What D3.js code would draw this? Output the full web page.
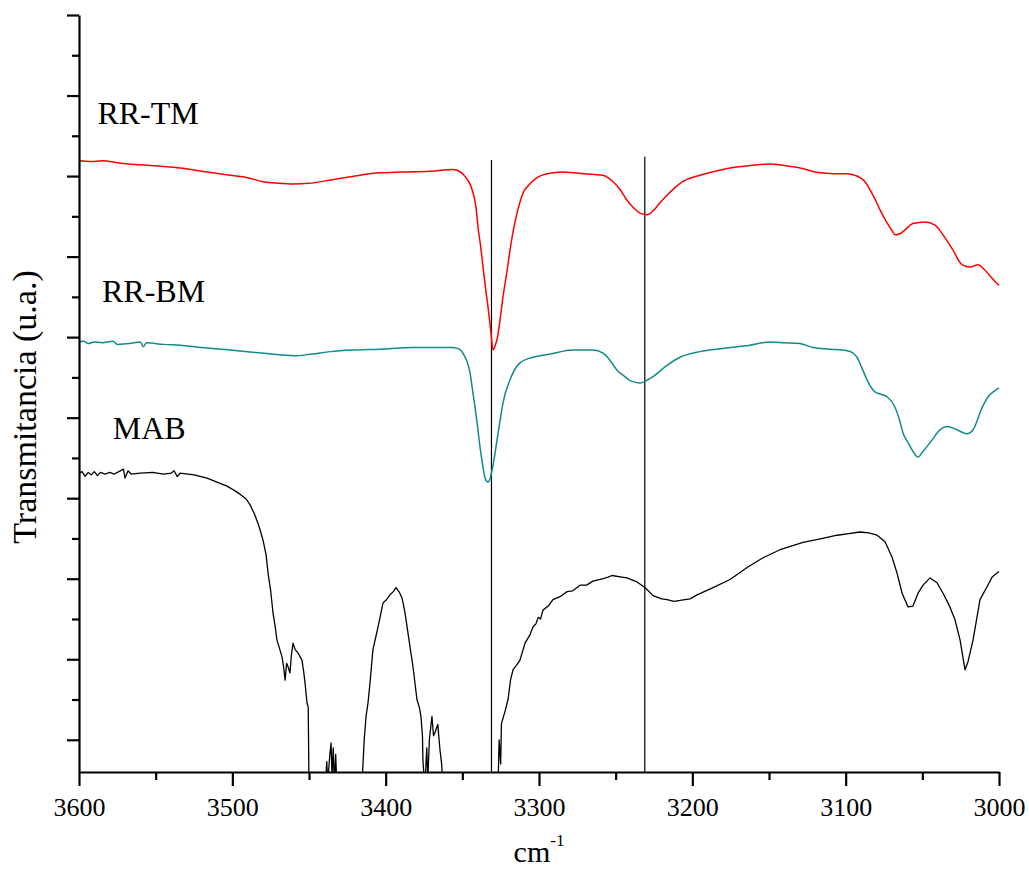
<!DOCTYPE html>
<html>
<head>
<meta charset="utf-8">
<script src="https://cdn.jsdelivr.net/npm/d3@7"></script>
<style>
  html, body { margin: 0; padding: 0; background: #fff; }
  svg { display: block; }
  text { font-family: "Liberation Serif", "Times New Roman", Tinos, "Nimbus Roman", "DejaVu Serif", serif; fill: #000; }
</style>
</head>
<body>
<svg id="chart" width="1029" height="871"></svg>
<script>
// ---- Data (wavenumber cm^-1, transmittance in arbitrary units) ----
const seriesNames = ["RR-TM", "RR-BM", "MAB"];
const seriesColors = ["#ff0000", "#128a8a", "#000000"];

const rrTM = [
  [3600,8.19],[3592,8.18],[3585,8.19],[3573,8.16],[3560,8.14],[3545,8.12],[3534,8.10],[3520,8.06],[3501.5,8.01],
  [3490,7.98],[3480,7.93],[3470,7.91],[3460,7.90],[3450,7.91],[3436,7.95],[3420,8.00],[3404,8.04],
  [3390,8.05],[3371,8.06],[3356,8.08],[3352,8.06],[3348,7.99],[3345,7.90],[3343,7.79],[3341,7.60],
  [3339.8,7.37],[3338,7.12],[3336.5,6.87],[3334.8,6.60],[3333.2,6.37],[3331.3,6.05],[3330,5.84],
  [3328.5,5.90],[3327.4,5.97],[3325.5,6.20],[3323.5,6.50],[3321,6.80],[3318.9,7.08],[3316.5,7.35],
  [3314.3,7.54],[3310.4,7.79],[3306,7.90],[3301.3,7.98],[3294.8,8.03],[3284.3,8.05],[3277,8.04],
  [3271.3,8.03],[3264,8.02],[3258.2,8.01],[3255,7.98],[3251.7,7.93],[3247,7.83],[3242.6,7.70],
  [3238,7.60],[3234.1,7.54],[3229.5,7.52],[3225,7.58],[3221.1,7.67],[3215,7.79],[3208,7.91],
  [3195,8.01],[3185,8.06],[3175.4,8.10],[3162,8.13],[3149.3,8.15],[3140,8.13],[3129.8,8.10],
  [3116.7,8.04],[3108,8.03],[3099.1,8.03],[3094,8.01],[3090.6,7.98],[3087,7.92],[3084.1,7.83],
  [3080.5,7.70],[3077.6,7.58],[3073,7.42],[3070,7.33],[3067.8,7.27],[3065,7.28],[3062.6,7.31],
  [3056.1,7.41],[3048.2,7.43],[3041.7,7.39],[3036.5,7.27],[3030,7.08],[3024.1,6.90],[3018.9,6.87],
  [3013.7,6.90],[3009.1,6.83],[3004.5,6.73],[3000,6.64]
];

const rrBM = [
  [3600,5.94],[3597,5.95],[3594,5.92],[3590,5.94],[3585,5.93],[3578,5.95],[3575,5.91],[3567,5.92],
  [3560,5.94],[3558,5.88],[3556,5.93],[3545,5.91],[3534,5.90],[3520,5.87],[3501.5,5.84],
  [3485,5.81],[3469,5.78],[3458,5.77],[3448,5.79],[3436,5.82],[3420,5.84],[3404,5.85],
  [3382,5.87],[3365,5.87],[3356,5.87],[3352,5.85],[3349.6,5.80],[3347,5.70],[3345,5.56],
  [3343.4,5.35],[3341.7,5.13],[3340,4.88],[3338.5,4.64],[3336.8,4.42],[3335.2,4.25],[3333.2,4.20],
  [3331.8,4.25],[3330.6,4.35],[3329,4.52],[3327.4,4.72],[3325.5,4.95],[3323.5,5.18],[3318.9,5.47],
  [3312.4,5.68],[3303.9,5.75],[3292.8,5.79],[3277.8,5.84],[3264.8,5.84],[3258.2,5.80],[3254,5.72],
  [3249.1,5.59],[3244,5.51],[3240.6,5.46],[3234.1,5.43],[3230,5.46],[3225.6,5.51],[3216.5,5.65],
  [3208,5.75],[3195,5.82],[3180,5.86],[3162.4,5.90],[3149.3,5.94],[3140,5.93],[3129.8,5.92],
  [3121.3,5.87],[3110,5.85],[3099.1,5.83],[3095,5.80],[3092.6,5.75],[3089,5.60],[3086.1,5.47],
  [3080.9,5.32],[3077,5.29],[3073,5.26],[3067.8,5.13],[3065,4.98],[3062.6,4.81],[3059,4.68],
  [3056.7,4.60],[3052.8,4.51],[3050,4.57],[3047,4.64],[3043,4.74],[3040.4,4.81],[3033.9,4.89],
  [3027.4,4.85],[3020.9,4.80],[3016.9,4.85],[3014.5,4.95],[3012.4,5.06],[3007.1,5.26],[3003,5.33],[3000,5.37]
];

const mab = [
  [3600,4.31],[3598,4.33],[3596,4.27],[3594,4.32],[3592,4.29],[3590,4.33],[3588,4.28],[3586,4.32],
  [3583,4.30],[3580,4.32],[3577,4.30],[3574,4.33],[3571,4.36],[3570,4.25],[3568,4.34],[3566,4.30],
  [3560,4.31],[3552,4.32],[3545,4.30],[3540,4.31],[3538,4.34],[3536,4.27],[3534,4.31],[3525,4.29],
  [3516.5,4.25],[3510,4.20],[3503.5,4.15],[3499,4.10],[3495,4.05],[3491,3.99],[3488.5,3.92],
  [3485.5,3.80],[3483.3,3.69],[3481.5,3.58],[3480,3.48],[3478,3.30],[3476.7,3.07],[3475,2.85],
  [3473.5,2.58],[3472,2.40],[3470.9,2.24],[3469,2.12],[3467.6,2.03],[3466.5,1.90],[3465.6,1.74],
  [3464.6,1.95],[3463.7,1.91],[3462.4,1.83],[3461.5,2.05],[3460.4,2.20],[3459,2.12],[3457.2,2.08],
  [3455.5,2.02],[3454.6,1.99],[3453.5,1.85],[3452.6,1.71],[3451.3,1.46],[3450.5,1.40],[3450,0.40],
  [3440,0.40],[3439,0.55],[3438.4,0.73],[3437.8,0.45],[3436.5,0.80],[3435.6,0.96],[3435,0.55],
  [3434.2,0.90],[3433.5,0.45],[3432.6,0.82],[3431.8,0.40],[3416,0.40],[3415,0.62],[3414,1.00],
  [3412.8,1.29],[3411.5,1.46],[3410,1.75],[3408.3,2.12],[3405,2.40],[3401.7,2.70],[3399.5,2.74],
  [3397.2,2.80],[3395,2.84],[3393.3,2.89],[3391,2.83],[3389.3,2.76],[3387.4,2.58],[3384.8,2.24],
  [3382.2,1.91],[3379.6,1.50],[3378,1.40],[3377,1.29],[3376,1.05],[3375.7,0.75],[3374.5,0.40],
  [3373.2,0.90],[3372.5,0.50],[3371.5,1.00],[3369.8,1.29],[3368.8,1.05],[3367.8,1.09],[3366,1.19],
  [3364.6,0.88],[3363.5,0.70],[3362.6,0.40],[3327.5,0.40],[3326.5,0.60],[3326,1.00],[3325,0.70],
  [3324.5,1.20],[3322.2,1.35],[3320.2,1.50],[3318.5,1.75],[3316.9,1.87],[3314.5,1.93],[3312.4,1.99],
  [3309.1,2.20],[3306,2.30],[3303.9,2.40],[3302,2.44],[3300.5,2.52],[3299,2.50],[3297.4,2.61],
  [3294,2.66],[3290.9,2.74],[3286,2.78],[3281.7,2.84],[3278,2.85],[3273.2,2.92],[3269,2.92],
  [3264.8,2.97],[3258,3.00],[3255,3.02],[3252.4,3.04],[3246,3.02],[3242.6,3.01],[3236.1,2.96],
  [3230.9,2.89],[3225.6,2.79],[3220,2.75],[3216.5,2.74],[3212,2.72],[3208,2.73],[3201.5,2.75],
  [3196.9,2.80],[3186.5,2.89],[3175.4,2.99],[3164.3,3.14],[3153.9,3.26],[3142.8,3.36],[3127.8,3.45],
  [3115,3.50],[3105.6,3.54],[3098,3.56],[3090.6,3.58],[3085,3.57],[3079.5,3.54],[3074.3,3.46],
  [3069.8,3.27],[3066.5,3.07],[3063.2,2.82],[3059.3,2.65],[3056.1,2.66],[3052.8,2.82],[3049.5,2.92],
  [3045,3.01],[3040.4,2.95],[3036.5,2.82],[3032,2.65],[3028.7,2.49],[3025.4,2.24],[3022.2,1.87],
  [3020.2,1.97],[3016.9,2.24],[3012.4,2.74],[3007.8,2.90],[3004.5,3.02],[3000,3.09]
];

const refLines = [3331, 3231];
const refLineTops = [8.20, 8.24];

const xTickMajor = [3600, 3500, 3400, 3300, 3200, 3100, 3000];
const xTickMinor = [3550, 3450, 3350, 3250, 3150, 3050];
const yTickMajor = [1, 2, 3, 4, 5, 6, 7, 8, 9, 10];
const yTickMinor = [1.5, 2.5, 3.5, 4.5, 5.5, 6.5, 7.5, 8.5, 9.5];

const yLabel = "Transmitancia (u.a.)";
const xLabelMain = "cm";
const xLabelSup = "-1";

// ---- Drawing ----
const svg = d3.select("#chart");
const x = d3.scaleLinear().domain([3600, 3000]).range([79, 999]);
const y = d3.scaleLinear().domain([0.6, 10]).range([772, 15]);

svg.append("defs").append("clipPath").attr("id", "plotClip")
  .append("rect").attr("x", 79).attr("y", 0).attr("width", 921).attr("height", 772);

const plot = svg.append("g").attr("clip-path", "url(#plotClip)");

// reference lines
plot.selectAll("line.ref").data(refLines).enter().append("line")
  .attr("class", "ref")
  .attr("x1", d => x(d)).attr("x2", d => x(d))
  .attr("y1", (d, i) => y(refLineTops[i])).attr("y2", y(0.6))
  .attr("stroke", "#000").attr("stroke-width", 1.2);

const line = d3.line().x(d => x(d[0])).y(d => y(d[1]));
const smooth = d3.line().x(d => x(d[0])).y(d => y(d[1])).curve(d3.curveMonotoneX);

[rrTM, rrBM].forEach((data, i) => {
  plot.append("path").datum(data)
    .attr("d", smooth).attr("fill", "none")
    .attr("stroke", seriesColors[i]).attr("stroke-width", 1.5)
    .attr("stroke-linejoin", "round");
});
plot.append("path").datum(mab)
  .attr("d", line).attr("fill", "none")
  .attr("stroke", seriesColors[2]).attr("stroke-width", 1.3)
  .attr("stroke-linejoin", "round");

// axes
const axisG = svg.append("g");
const xAxisMajor = d3.axisBottom(x).tickValues(xTickMajor).tickSize(14).tickSizeOuter(0)
  .tickPadding(12).tickFormat(d3.format("d"));
const gx = axisG.append("g").attr("transform", "translate(0,772)").call(xAxisMajor);
gx.attr("font-family", null);
gx.select(".domain").attr("stroke-width", 2.2);
gx.selectAll(".tick line").attr("stroke-width", 2.2);
gx.selectAll(".tick text").attr("font-size", 26).attr("fill", "#000");
const xAxisMinor = d3.axisBottom(x).tickValues(xTickMinor).tickSize(8).tickSizeOuter(0).tickFormat("");
const gxm = axisG.append("g").attr("transform", "translate(0,772)").call(xAxisMinor);
gxm.select(".domain").remove();
gxm.selectAll(".tick line").attr("stroke-width", 2.2);

const yAxisMajor = d3.axisLeft(y).tickValues(yTickMajor).tickSize(12).tickSizeOuter(0).tickFormat("");
const gy = axisG.append("g").attr("transform", "translate(79,0)").call(yAxisMajor);
gy.select(".domain").attr("stroke-width", 2.2);
gy.selectAll(".tick line").attr("stroke-width", 2.2);
const yAxisMinor = d3.axisLeft(y).tickValues(yTickMinor).tickSize(7).tickSizeOuter(0).tickFormat("");
const gym = axisG.append("g").attr("transform", "translate(79,0)").call(yAxisMinor);
gym.select(".domain").remove();
gym.selectAll(".tick line").attr("stroke-width", 2.2);

// series labels
const labelPos = [[3588, 8.65], [3585, 6.44], [3578, 4.74]];
svg.selectAll("text.series").data(seriesNames).enter().append("text")
  .attr("class", "series")
  .attr("x", (d, i) => x(labelPos[i][0]))
  .attr("y", (d, i) => y(labelPos[i][1]))
  .attr("font-size", 32)
  .text(d => d);

// axis titles
svg.append("text")
  .attr("transform", "translate(36,407) rotate(-90)")
  .attr("text-anchor", "middle")
  .attr("font-size", 34)
  .text(yLabel);

const xt = svg.append("text")
  .attr("x", 539).attr("y", 862)
  .attr("text-anchor", "middle")
  .attr("font-size", 30);
xt.append("tspan").text(xLabelMain);
xt.append("tspan").attr("dy", -16).attr("font-size", 17).text(xLabelSup);
</script>
</body>
</html>
